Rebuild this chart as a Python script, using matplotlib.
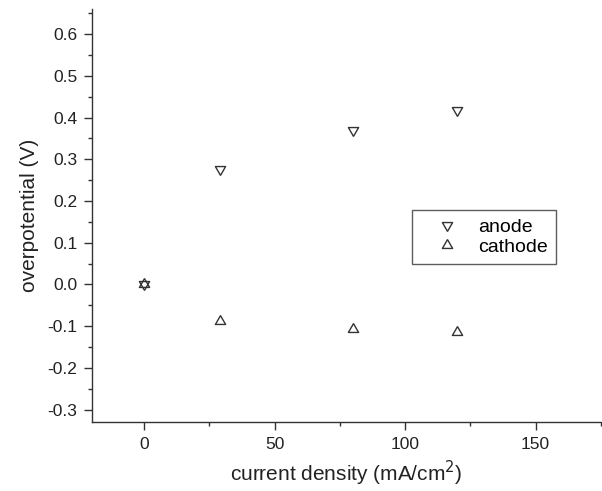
import matplotlib.pyplot as plt
from matplotlib.ticker import MultipleLocator

plt.rcParams['font.family'] = ['Liberation Sans', 'DejaVu Sans']

current = [0, 29, 80, 120]
anode = [0.0, 0.276, 0.369, 0.417]
cathode = [0.0, -0.089, -0.107, -0.114]

# triangles centred on their centroid so that the two at (0, 0) form a star
tri_up = [(0, 1), (-0.866, -0.5), (0.866, -0.5), (0, 1)]
tri_down = [(0, -1), (-0.866, 0.5), (0.866, 0.5), (0, -1)]

fig = plt.figure(figsize=(6.02, 4.91), dpi=100)
ax = fig.add_axes([0.153, 0.1405, 0.845, 0.841])

ax.plot(current, anode, linestyle='none', marker=tri_down, markersize=8.5,
        markerfacecolor='none', markeredgecolor='#333333', markeredgewidth=1, label='anode')
ax.plot(current, cathode, linestyle='none', marker=tri_up, markersize=8.5,
        markerfacecolor='none', markeredgecolor='#333333', markeredgewidth=1, label='cathode')

ax.set_xlim(-20, 175)
ax.set_ylim(-0.33, 0.66)
ax.xaxis.set_major_locator(MultipleLocator(50))
ax.xaxis.set_minor_locator(MultipleLocator(25))
ax.yaxis.set_major_locator(MultipleLocator(0.1))
ax.yaxis.set_minor_locator(MultipleLocator(0.05))
ax.yaxis.set_major_formatter(plt.FuncFormatter(lambda v, p: '%.1f' % v))

for s in ['top', 'right']:
    ax.spines[s].set_visible(False)
for s in ['left', 'bottom']:
    ax.spines[s].set_color('#333333')
    ax.spines[s].set_linewidth(1)

ax.tick_params(which='major', direction='out', length=5.5, width=1, color='#333333',
               labelsize=12.5, labelcolor='#222222', pad=5)
ax.tick_params(which='minor', direction='out', length=3, width=1, color='#333333')

ax.set_xlabel('current density (mA/cm$^2$)', fontsize=15, color='#222222', labelpad=5)
ax.set_ylabel('overpotential (V)', fontsize=15, color='#222222', labelpad=6)

leg = ax.legend(loc='upper left', bbox_to_anchor=(0.629, 0.513), fontsize=14,
                frameon=True, fancybox=False, edgecolor='#333333', borderpad=0.4,
                borderaxespad=0, handlelength=2.8, handletextpad=0.2, labelspacing=0.15)
leg.get_frame().set_linewidth(1)

fig.savefig('out.png', dpi=100)
